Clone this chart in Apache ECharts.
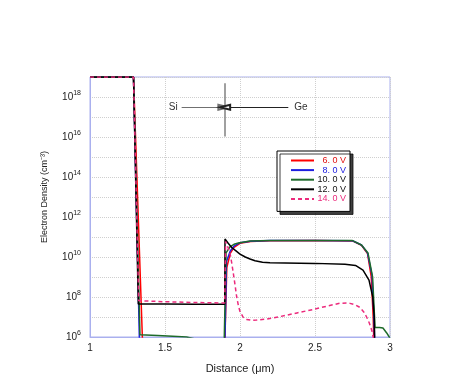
<!DOCTYPE html>
<html>
<head>
<meta charset="utf-8">
<script src="https://cdn.jsdelivr.net/npm/echarts@6/dist/echarts.min.js"></script>
<style>html,body{margin:0;padding:0;background:#fff;}#c{width:450px;height:390px;}</style>
</head>
<body>
<div id="c"></div>
<script>
const seriesNames = ['6. 0 V', '8. 0 V', '10. 0 V', '12. 0 V', '14. 0 V'];
const v6 = [[1,1e19],[1.29,1e19],[1.349,1e6],[1.36,1e5],[1.895,1e5],[1.9,1e6],[1.912,3e9],[1.935,1.5e10],[1.96,3e10],[2.0,4.8e10],[2.07,6e10],[2.2,6.5e10],[2.5,6.6e10],[2.75,6.4e10],[2.81,3.8e10],[2.85,1.5e10],[2.875,1e9],[2.888,1e7],[2.895,1e5]];
const v8 = [[1,1e19],[1.29,1e19],[1.329,1e6],[1.34,1e5],[1.895,1e5],[1.9,1e6],[1.91,6e9],[1.935,2e10],[1.96,3.5e10],[2.0,5.2e10],[2.07,6.2e10],[2.2,6.6e10],[2.5,6.7e10],[2.75,6.5e10],[2.81,4e10],[2.85,1.6e10],[2.88,1.2e9],[2.893,1e7],[2.9,1e5]];
const v10 = [[1,1e19],[1.29,1e19],[1.333,1.3e6],[1.45,1.2e6],[1.55,1.1e6],[1.644,1e6],[1.7,8e5],[1.895,8e5],[1.9,1e6],[1.907,1.6e10],[1.933,3.2e10],[1.96,4.3e10],[1.989,5e10],[2.067,6.3e10],[2.2,6.6e10],[2.5,6.7e10],[2.75,6.6e10],[2.81,4e10],[2.853,1.6e10],[2.884,1e9],[2.897,1e7],[2.9,3e6],[2.93,3e6],[2.953,2.8e6],[2.978,1.6e6],[2.995,1e6],[3,9e5]];
const v12 = [[1,1e19],[1.29,1e19],[1.322,4.5e7],[1.5,4.5e7],[1.7,4.4e7],[1.898,4.3e7],[1.9,8e10],[1.92,5e10],[1.945,3e10],[1.967,2.2e10],[2.0,1.4e10],[2.035,1e10],[2.067,8e9],[2.1,6.5e9],[2.15,5.4e9],[2.2,5.1e9],[2.3,5e9],[2.5,4.8e9],[2.7,4.3e9],[2.77,3.8e9],[2.82,2.2e9],[2.86,7e8],[2.885,1e8],[2.895,1e7],[2.9,1e5]];
const v14 = [[1,1e19],[1.29,1e19],[1.325,6.5e7],[1.5,5.8e7],[1.7,5.3e7],[1.898,5e7],[1.904,6e10],[1.92,3e10],[1.933,1.6e10],[1.945,5e9],[1.955,1.6e9],[1.967,4e8],[1.978,1e8],[1.99,3.5e7],[2.0,1.9e7],[2.02,1e7],[2.044,7.5e6],[2.08,6.8e6],[2.11,7e6],[2.18,8e6],[2.267,1.05e7],[2.38,1.6e7],[2.49,2.4e7],[2.58,3.5e7],[2.667,4.9e7],[2.71,5e7],[2.733,4.8e7],[2.77,4e7],[2.8,3e7],[2.825,1.8e7],[2.844,1e7],[2.862,5e6],[2.878,2.2e6],[2.888,1e6],[2.895,1e5]];
const seriesData = [v6, v8, v10, v12, v14];
const lineColors = ['#ff0000', '#1f1fe0', '#1e6b2a', '#000000', '#ec2a7c'];
const textColors = ['#e01010', '#2020e0', '#111111', '#111111', '#ec2a7c'];

// annotation anchors (data coordinates)
const boundaryX = 1.895;
const arrowY = Math.pow(10, 17.49);
const vTop = Math.pow(10, 18.69), vBottom = Math.pow(10, 16.02);
const siStart = 1.611, siEnd = 1.889, geStart = 2.322, geEnd = 1.901;

const chart = echarts.init(document.getElementById('c'), null, {renderer: 'canvas'});
const series = seriesData.map((d, i) => ({
  name: seriesNames[i],
  type: 'line',
  data: d,
  symbol: 'none',
  showSymbol: false,
  animation: false,
  lineStyle: {color: lineColors[i], width: 1.5, type: i === 4 ? [4, 3] : 'solid'},
  itemStyle: {color: lineColors[i]},
  z: 2 + i
}));
series[3].markLine = {
  silent: true,
  animation: false,
  symbol: 'none',
  data: [
    [{coord: [boundaryX, vTop], symbol: 'none', lineStyle: {color: '#808080', width: 1.5, type: 'solid'}, label: {show: false}},
     {coord: [boundaryX, vBottom], symbol: 'none'}],
    [{coord: [siStart, arrowY], symbol: 'none', lineStyle: {color: '#707070', width: 1, type: 'solid'},
      label: {show: true, position: 'start', formatter: 'Si', color: '#333', fontSize: 10, fontFamily: 'Liberation Sans', distance: 4}},
     {coord: [siEnd, arrowY], symbol: 'emptyTriangle', symbolSize: [5, 10]}],
    [{coord: [geStart, arrowY], symbol: 'none', lineStyle: {color: '#222', width: 1, type: 'solid'},
      label: {show: true, position: 'start', formatter: 'Ge', color: '#333', fontSize: 10, fontFamily: 'Liberation Sans', distance: 6}},
     {coord: [geEnd, arrowY], symbol: 'emptyTriangle', symbolSize: [5, 10]}]
  ]
};

const option = {
  backgroundColor: '#fff',
  animation: false,
  grid: {left: 90, right: 60, top: 77, bottom: 53, show: true, borderColor: '#aab0ee', borderWidth: 1, backgroundColor: 'transparent'},
  legend: {
    orient: 'vertical',
    left: 277, top: 151,
    padding: [5, 4, 8, 13],
    backgroundColor: '#fff',
    borderColor: '#000', borderWidth: 1,
    shadowColor: 'rgba(0,0,0,0.75)', shadowOffsetX: 3, shadowOffsetY: 3, shadowBlur: 0,
    itemWidth: 23, itemHeight: 6, itemGap: 0.6,
    itemStyle: {opacity: 0},
    data: seriesNames.map((n, i) => ({name: n, textStyle: {color: textColors[i]}})),
    formatter: n => '{a|' + n + '}',
    textStyle: {fontSize: 9, fontFamily: 'Liberation Sans', lineHeight: 7,
      rich: {a: {width: 27, align: 'right', fontSize: 9, lineHeight: 7}}},
    selectedMode: false
  },
  xAxis: {
    type: 'value', min: 1, max: 3, interval: 0.5,
    name: 'Distance (\u03bcm)', nameLocation: 'middle', nameGap: 26,
    nameTextStyle: {fontSize: 11, color: '#222', fontFamily: 'Liberation Sans'},
    axisLine: {show: true, lineStyle: {color: '#aab0ee'}},
    axisTick: {show: false},
    axisLabel: {fontSize: 10, color: '#222', margin: 6, fontFamily: 'Liberation Sans'},
    splitLine: {show: true, lineStyle: {color: '#cfcfcf', type: 'dotted'}}
  },
  yAxis: {
    type: 'log', logBase: 10, min: 1e6, max: 1e19, interval: 1,
    name: 'Electron Density (cm\u207b\u00b3)', nameLocation: 'middle', nameGap: 41,
    nameTextStyle: {fontSize: 9, color: '#222', fontFamily: 'Liberation Sans', padding: [0, 0, 0, 20]},
    axisLine: {show: true, lineStyle: {color: '#aab0ee'}},
    axisTick: {show: false},
    axisLabel: {
      margin: 9, color: '#222', fontFamily: 'Liberation Sans',
      formatter: v => {
        const e = Math.round(Math.log10(v));
        if (e % 2 !== 0) return '';
        return '{b|10}{s|' + e + '}';
      },
      rich: {
        b: {fontSize: 10, color: '#222', fontFamily: 'Liberation Sans', lineHeight: 14},
        s: {fontSize: 7, color: '#222', fontFamily: 'Liberation Sans', verticalAlign: 'top', lineHeight: 8}
      }
    },
    splitLine: {show: true, lineStyle: {color: '#cfcfcf', type: 'dotted'}}
  },
  series: series
};
chart.setOption(option);
</script>
</body>
</html>
